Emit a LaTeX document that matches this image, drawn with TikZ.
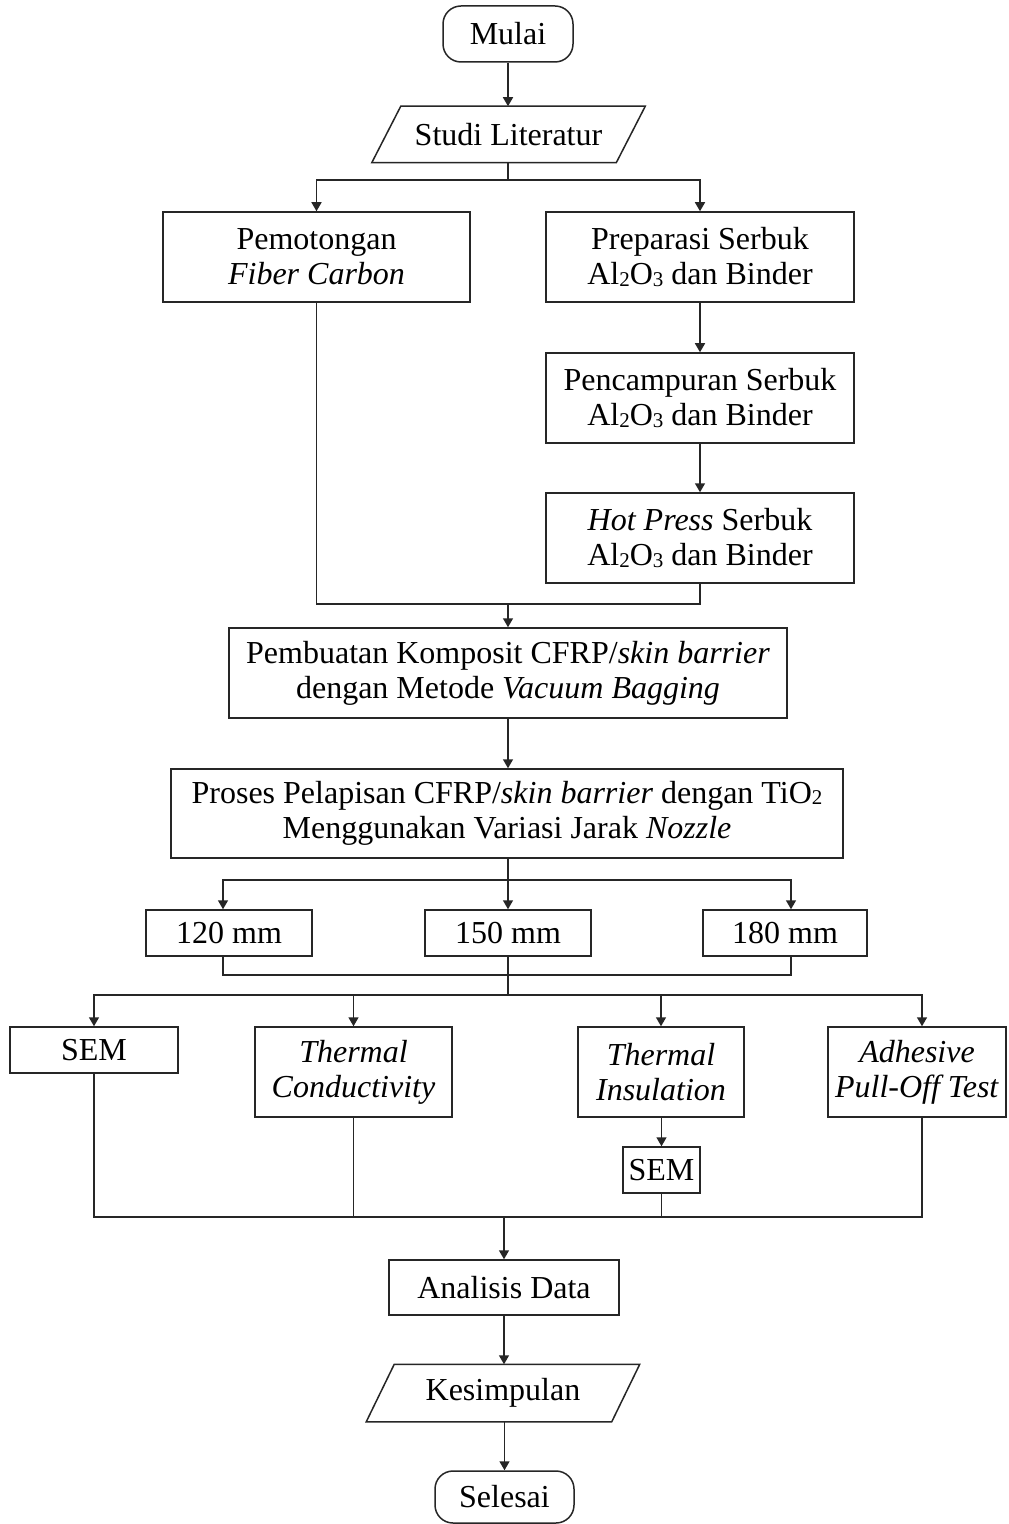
\documentclass[tikz,border=0pt]{standalone}
\usepackage{fontspec}
\setmainfont{Liberation Serif}
\usetikzlibrary{arrows.meta,calc}
\newcommand{\subdig}[1]{\raisebox{-0.6pt}{\fontsize{10.5}{10.5}\selectfont #1}}
\newcommand{\AlOx}{Al\subdig{2}O\subdig{3}}
\begin{document}
\begin{tikzpicture}[x=0.5pt,y=-0.5pt,
  line width=0.75pt, draw=black!85,
  every node/.style={font=\fontsize{16}{17.5}\selectfont, inner sep=0pt, align=center},
  box/.style n args={2}{draw=black!85, rectangle, minimum width=#1, minimum height=#2},
  term/.style n args={2}{draw=black!85, rectangle, rounded corners=9pt, minimum width=#1, minimum height=#2},
  iobox/.style n args={2}{rectangle, minimum width=#1, minimum height=#2},
  arr/.style={-{Triangle[length=4.5pt,width=5pt]}}
]
\fill[white] (0,0) rectangle (1008,1524);
\useasboundingbox (0,0) rectangle (1008,1524);

% nodes
\node[term={65pt}{28pt}] (mulai) at (508,34) {Mulai};
\node[iobox={121.5pt}{27.5pt}] (studi) at (508.5,134.5) {Studi Literatur};
\draw ($(studi.north west)+(14.5,0)$) -- ($(studi.north east)+(14.5,0)$) -- ($(studi.south east)+(-14.5,0)$) -- ($(studi.south west)+(-14.5,0)$) -- cycle;

\node[box={153.5pt}{45pt}] (pem) at (316.5,257) {Pemotongan\\\textit{Fiber Carbon}};
\node[box={154pt}{45pt}] (prep) at (700,257) {Preparasi Serbuk\\\AlOx{} dan Binder};
\node[box={154pt}{45pt}] (penc) at (700,398) {Pencampuran Serbuk\\\AlOx{} dan Binder};
\node[box={154pt}{45pt}] (hot) at (700,538) {\textit{Hot Press} Serbuk\\\AlOx{} dan Binder};

\node[box={279pt}{45pt}] (buat) at (508,673) {Pembuatan Komposit CFRP/\textit{skin barrier}\\dengan Metode \textit{Vacuum Bagging}};
\node[box={336pt}{44.5pt}] (proses) at (507,813.5) {Proses Pelapisan CFRP/\textit{skin barrier} dengan TiO\subdig{2}\\Menggunakan Variasi Jarak \textit{Nozzle}};

\node[box={83pt}{23pt}] (m120) at (229,933) {120 mm};
\node[box={83pt}{23pt}] (m150) at (508,933) {150 mm};
\node[box={82pt}{23pt}] (m180) at (785,933) {180 mm};

\node[box={84pt}{23pt}] (sem1) at (94,1050) {SEM};
\node[box={98.5pt}{45pt}] (tc) at (353.5,1072) {\textit{Thermal}\\\textit{Conductivity}};
\node[box={83pt}{45pt}] (ti) at (661,1072) {\textit{Thermal}\\\textit{Insulation}};
\node[box={38.5pt}{23pt}] (sem2) at (661.5,1170) {SEM};
\node[box={89pt}{45pt}] (ad) at (917,1072) {\textit{Adhesive}\\\textit{Pull-Off Test}};

\node[box={115pt}{27.5pt}] (analisis) at (504,1287.5) {Analisis Data};
\node[iobox={122pt}{28pt}] (kes) at (503,1393) {Kesimpulan};
\draw ($(kes.north west)+(14,0)$) -- ($(kes.north east)+(14,0)$) -- ($(kes.south east)+(-14,0)$) -- ($(kes.south west)+(-14,0)$) -- cycle;
\node[term={69.5pt}{26pt}] (selesai) at (504.5,1497) {Selesai};

% junctions
\coordinate (j1) at (508,180);
\coordinate (j2) at (508,604);
\coordinate (j3) at (508,880);
\coordinate (j4) at (508,975);
\coordinate (j5) at (508,995);
\coordinate (j6) at (504,1217);

% connectors
\draw[arr] (mulai.south) -- (mulai.south |- studi.north);
\draw (studi.south -| j1) -- (j1);
\draw[arr] (j1) -| (pem.north);
\draw[arr] (j1) -| (prep.north);
\draw[arr] (prep.south) -- (penc.north);
\draw[arr] (penc.south) -- (hot.north);
\draw (pem.south) |- (hot.south |- j2) -- (hot.south);
\draw[arr] (j2) -- (buat.north -| j2);
\draw[arr] (buat.south -| j2) -- (proses.north -| j2);
\draw (proses.south -| j3) -- (j3);
\draw[arr] (j3) -| ([xshift=-3pt]m120.north);
\draw[arr] (j3) -- (m150.north);
\draw[arr] (j3) -| ([xshift=3pt]m180.north);
\draw ([xshift=-3pt]m120.south) |- ([xshift=3pt]m180.south |- j4) -- ([xshift=3pt]m180.south);
\draw (m150.south) -- (j5);
\draw[arr] (j5) -| (sem1.north);
\draw[arr] (j5) -| (tc.north);
\draw[arr] (j5) -| (ti.north);
\draw[arr] (j5) -| ([xshift=2.5pt]ad.north);
\draw[arr] (ti.south -| sem2.north) -- (sem2.north);
\draw (sem1.south) |- ([xshift=2.5pt]ad.south |- j6) -- ([xshift=2.5pt]ad.south);
\draw (tc.south) -- (tc.south |- j6);
\draw (sem2.south) -- (sem2.south |- j6);
\draw[arr] (j6) -- (analisis.north);
\draw[arr] (analisis.south) -- (analisis.south |- kes.north);
\draw[arr] (kes.south -| selesai.north) -- (selesai.north);
\end{tikzpicture}
\end{document}
